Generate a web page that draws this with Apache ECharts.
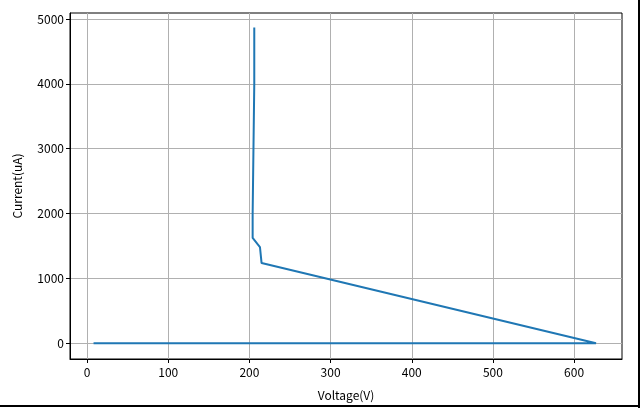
<!DOCTYPE html>
<html>
<head>
<meta charset="utf-8">
<script src="https://cdn.jsdelivr.net/npm/echarts@6/dist/echarts.min.js"></script>
<style>
html,body{margin:0;padding:0;background:#fff;}
#chart{width:640px;height:408px;}
</style>
</head>
<body>
<div id="chart"></div>
<script>
// Data
var voltage = [8, 100, 200, 300, 400, 500, 600, 627, 215, 213, 204, 204, 205, 206, 206];
var current = [0, 0, 0, 0, 0, 0, 0, 0, 1237, 1484, 1624, 2000, 3000, 4000, 4870];
var xTicks = [0, 100, 200, 300, 400, 500, 600];
var yTicks = [0, 1000, 2000, 3000, 4000, 5000];
var xName = 'Voltage(V)';
var yName = 'Current(uA)';

var points = voltage.map(function (v, i) { return [v, current[i]]; });
var font = '"Noto Sans CJK SC", sans-serif';
function plain(v) { return String(v); }

var chart = echarts.init(document.getElementById('chart'));
chart.setOption({
  animation: false,
  backgroundColor: '#fff',
  grid: {
    left: 70, right: 18, top: 13, bottom: 49,
    show: true, borderColor: '#000', borderWidth: 1, backgroundColor: 'transparent'
  },
  xAxis: {
    type: 'value', min: -21, max: 659,
    name: xName, nameLocation: 'middle', nameGap: 30,
    nameTextStyle: { color: '#000', fontSize: 12, fontFamily: font },
    axisLine: { show: true, onZero: false, lineStyle: { color: '#000', width: 1 } },
    axisTick: { show: true, inside: false, length: 4, customValues: xTicks, lineStyle: { color: '#000' } },
    axisLabel: { customValues: xTicks, formatter: plain, color: '#000', fontSize: 12, fontFamily: font, margin: 7 },
    splitLine: { show: true, lineStyle: { color: '#b0b0b0', width: 1 } }
  },
  yAxis: {
    type: 'value', min: -243, max: 5093,
    name: yName, nameLocation: 'middle', nameGap: 47, nameRotate: 90,
    nameTextStyle: { color: '#000', fontSize: 12, fontFamily: font },
    axisLine: { show: true, onZero: false, lineStyle: { color: '#000', width: 1 } },
    axisTick: { show: true, inside: false, length: 4, customValues: yTicks, lineStyle: { color: '#000' } },
    axisLabel: { customValues: yTicks, formatter: plain, color: '#000', fontSize: 12, fontFamily: font, margin: 6 },
    splitLine: { show: true, lineStyle: { color: '#b0b0b0', width: 1 } }
  },
  series: [{
    type: 'line',
    data: points,
    showSymbol: false,
    symbol: 'none',
    lineStyle: { color: '#1f77b4', width: 2 },
    z: 5
  }],
  graphic: [
    { type: 'line', shape: { x1: 639, y1: 0, x2: 639, y2: 408 }, style: { stroke: '#000', lineWidth: 2 } },
    { type: 'line', shape: { x1: 0, y1: 406, x2: 640, y2: 406 }, style: { stroke: '#000', lineWidth: 2 } }
  ]
});
</script>
</body>
</html>
